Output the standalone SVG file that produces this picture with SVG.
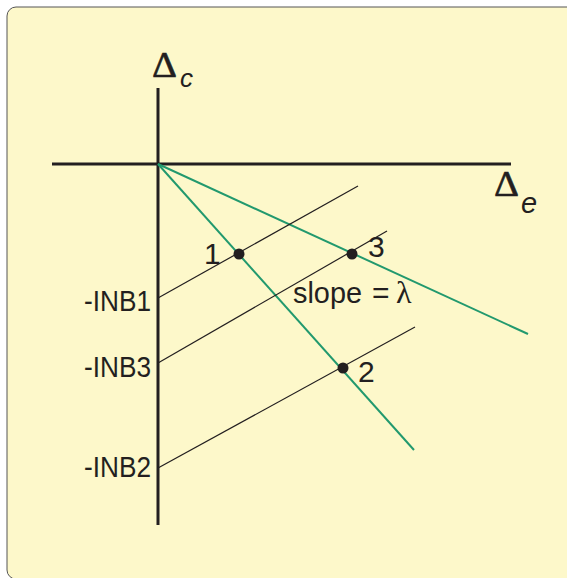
<svg xmlns="http://www.w3.org/2000/svg" width="567" height="578" viewBox="0 0 567 578">
<style>
.axis{stroke:#231f20;stroke-width:3;fill:none}
.green{stroke:#22996e;stroke-width:2;fill:none}
.thin{stroke:#231f20;stroke-width:1.2;fill:none}
.lbl{font-family:"Liberation Sans",Arial,sans-serif;font-size:30px;fill:#231f20}
.sym{font-family:"Liberation Serif","Times New Roman",serif;fill:#231f20}
.it{font-family:"Liberation Sans",Arial,sans-serif;font-style:italic;fill:#231f20}
.dot{fill:#231f20}
</style>
<rect x="7" y="7" width="580" height="572" rx="9" ry="9" fill="#fdf8ca" stroke="#555" stroke-width="1"/>
<g id="connectors">
<line class="axis" x1="158" y1="88" x2="158" y2="525"/>
<line class="axis" x1="52" y1="164" x2="511" y2="164"/>
<line class="green" x1="158" y1="164" x2="414" y2="450"/>
<line class="green" x1="158" y1="164" x2="528" y2="334"/>
<line class="thin" x1="158" y1="298" x2="358" y2="186"/>
<line class="thin" x1="158" y1="363" x2="387" y2="231"/>
<line class="thin" x1="158" y1="468" x2="415" y2="327"/>
</g>
<g id="axis-c">
<text class="sym" x="152" y="76.5" font-size="36" textLength="25" lengthAdjust="spacingAndGlyphs" stroke="#231f20" stroke-width="0.5">Δ</text>
<text class="it" x="180" y="87" font-size="26">c</text>
</g>
<g id="axis-e">
<text class="sym" x="494" y="195.5" font-size="36" textLength="25" lengthAdjust="spacingAndGlyphs" stroke="#231f20" stroke-width="0.5">Δ</text>
<text class="it" x="521" y="213" font-size="29">e</text>
</g>
<g id="inb1"><text class="lbl" x="84" y="311" textLength="67" lengthAdjust="spacingAndGlyphs">-INB1</text></g>
<g id="inb3"><text class="lbl" x="84" y="377" textLength="67" lengthAdjust="spacingAndGlyphs">-INB3</text></g>
<g id="inb2"><text class="lbl" x="84" y="477" textLength="67" lengthAdjust="spacingAndGlyphs">-INB2</text></g>
<g id="p1"><circle class="dot" cx="239" cy="254" r="5.5"/><text class="lbl" x="204" y="264">1</text></g>
<g id="p3"><circle class="dot" cx="352" cy="254" r="5.5"/><text class="lbl" x="368" y="257">3</text></g>
<g id="p2"><circle class="dot" cx="343" cy="368" r="5.5"/><text class="lbl" x="358" y="382">2</text></g>
<g id="slope">
<text class="lbl" x="293" y="303" textLength="69" lengthAdjust="spacingAndGlyphs">slope</text>
<text class="lbl" x="372" y="303">=</text>
<text class="sym" x="396" y="303" font-size="32">λ</text>
</g>
</svg>
